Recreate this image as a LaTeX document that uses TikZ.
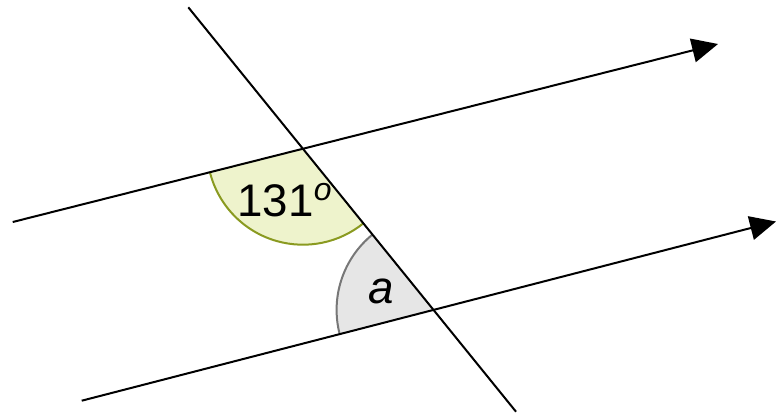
\documentclass[tikz,border=0pt]{standalone}
\usepackage{fontspec}
\setmainfont{Liberation Sans}
\usetikzlibrary{arrows.meta, angles, calc}
\definecolor{sectorgreen}{HTML}{EEF3CC}
\definecolor{arcgreen}{HTML}{8A9A20}
\definecolor{sectorgrey}{HTML}{E6E6E6}
\definecolor{arcgrey}{HTML}{777777}
\begin{document}
\begin{tikzpicture}[x=0.02cm, y=0.02cm,
		line/.style={draw=black, line width=0.04cm},
		ray/.style={line, -{Triangle[length=0.52cm, width=0.48cm]}},
		greensector/.style={draw=arcgreen, fill=sectorgreen, line width=0.04cm, angle radius=1.92cm},
		greysector/.style={draw=arcgrey, fill=sectorgrey, line width=0.04cm, angle radius=1.94cm},
		label/.style={font=\fontsize{26}{30}\selectfont, anchor=base, inner sep=0pt}
	]
	\useasboundingbox (0,0) rectangle (777,414);

	% Parallel lines and transversal
	\coordinate (A) at (12.7, 192);
	\coordinate (B) at (718, 370);
	\coordinate (C) at (81.7, 13.3);
	\coordinate (D) at (776, 192.5);
	\coordinate (T1) at (188.3, 406.7);
	\coordinate (T2) at (516, 2.3);
	\coordinate (P) at (intersection of A--B and T1--T2);
	\coordinate (Q) at (intersection of C--D and T1--T2);

	% Angles
	\pic[greensector] {angle = A--P--T2};
	\pic[greysector] {angle = T1--Q--C};

	\draw[ray] (A) -- (B);
	\draw[ray] (C) -- (D);
	\draw[line] (T1) -- (T2);

	% Labels
	\node[label] (given) at (285, 198) {131\textsuperscript{\itshape o}};
	\node[label] (unknown) at (381, 111) {\itshape a};
\end{tikzpicture}
\end{document}
